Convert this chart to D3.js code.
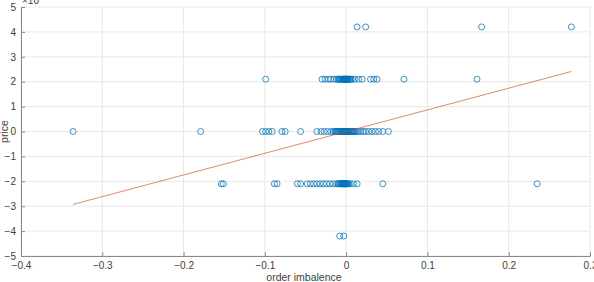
<!DOCTYPE html>
<html>
<head>
<meta charset="utf-8">
<script src="https://cdn.jsdelivr.net/npm/d3@7"></script>
<style>
  body { margin: 0; background: #fff; }
  text { font-family: "Liberation Sans", Arial, sans-serif; }
</style>
</head>
<body>
<div id="my_dataviz"></div>
<script>
// price values are in units of 10^-3
var row42 = [0.0135, 0.024, 0.1666, 0.277];
var row21 = [-0.099, -0.0296, -0.026, -0.022, -0.019, -0.015, -0.012, -0.010, -0.009, -0.008, -0.007,
    -0.006, -0.005, -0.004, -0.0035, -0.003, -0.0025, -0.002, -0.0015, -0.001, -0.0005, 0.0, 0.0005,
    0.001, 0.0015, 0.002, 0.003, 0.004, 0.005, 0.006, 0.008, 0.011, 0.0155, 0.0197, 0.030, 0.034,
    0.038, 0.071, 0.161];
var row0 = [-0.336, -0.179, -0.103, -0.099, -0.095, -0.091, -0.079, -0.075, -0.056, -0.036, -0.031, -0.027,
    -0.023, -0.019, -0.016, -0.014, -0.013, -0.012, -0.011, -0.010, -0.009, -0.008, -0.007, -0.006,
    -0.005, -0.0045, -0.004, -0.0035, -0.003, -0.0025, -0.002, -0.0015, -0.001, -0.0005, 0.0, 0.0005,
    0.001, 0.0015, 0.002, 0.0025, 0.003, 0.004, 0.005, 0.006, 0.007, 0.008, 0.009, 0.010, 0.011,
    0.013, 0.015, 0.018, 0.021, 0.024, 0.028, 0.032, 0.036, 0.040, 0.045, 0.052];
var rowM21 = [-0.1536, -0.151, -0.0883, -0.085, -0.060, -0.056, -0.048, -0.044, -0.040, -0.036, -0.032,
    -0.028, -0.024, -0.020, -0.016, -0.012, -0.010, -0.009, -0.008, -0.007, -0.006, -0.005, -0.0045,
    -0.004, -0.0035, -0.003, -0.0025, -0.002, -0.0015, -0.001, -0.0005, 0.0, 0.0005, 0.001, 0.002,
    0.003, 0.005, 0.009, 0.0135, 0.045, 0.235];
var rowM42 = [-0.008, -0.003];

var priceLevels = [4.2, 2.1, 0, -2.1, -4.2];
var rows = [row42, row21, row0, rowM21, rowM42];

// least squares line end points
var fitX = [-0.336, 0.277];
var fitY = [-2.93, 2.41];

var xTicks = [-0.4, -0.3, -0.2, -0.1, 0, 0.1, 0.2, 0.3];
var yTicks = [-5, -4, -3, -2, -1, 0, 1, 2, 3, 4, 5];

var W = 594, H = 282;
var margin = { top: 7, right: 4, bottom: 26, left: 21 };

var svg = d3.select("#my_dataviz")
    .append("svg")
    .attr("width", W)
    .attr("height", H);

var x = d3.scaleLinear().domain([-0.4, 0.3]).range([margin.left, W - margin.right]);
var y = d3.scaleLinear().domain([-5, 5]).range([H - margin.bottom, margin.top]);

// grid
svg.append("g").selectAll("line")
    .data(xTicks)
    .enter().append("line")
    .attr("x1", function (d) { return x(d); })
    .attr("x2", function (d) { return x(d); })
    .attr("y1", y(-5))
    .attr("y2", y(5))
    .attr("stroke", "#e8e8e8")
    .attr("stroke-width", 1);
svg.append("g").selectAll("line")
    .data(yTicks)
    .enter().append("line")
    .attr("x1", x(-0.4))
    .attr("x2", x(0.3))
    .attr("y1", function (d) { return y(d); })
    .attr("y2", function (d) { return y(d); })
    .attr("stroke", "#e8e8e8")
    .attr("stroke-width", 1);

// axes
var xAxis = svg.append("g")
    .attr("transform", "translate(0," + y(-5) + ")")
    .call(d3.axisBottom(x).tickValues(xTicks).tickFormat(d3.format("")).tickSizeInner(-4).tickSizeOuter(0).tickPadding(6));
var yAxis = svg.append("g")
    .attr("transform", "translate(" + x(-0.4) + ",0)")
    .call(d3.axisLeft(y).tickValues(yTicks).tickFormat(d3.format("")).tickSizeInner(-4).tickSizeOuter(0).tickPadding(5));

[xAxis, yAxis].forEach(function (a) {
    a.select(".domain").attr("stroke", "#8a8a8a");
    a.selectAll(".tick line").attr("stroke", "#8a8a8a");
    a.selectAll(".tick text").attr("fill", "#404040").style("font-size", "10px");
});

// exponent label
var ex = svg.append("text")
    .attr("x", x(-0.4) + 1)
    .attr("y", 4)
    .attr("fill", "#404040")
    .style("font-size", "10px");
ex.append("tspan").text("\u00d710");
ex.append("tspan").attr("dy", -4).style("font-size", "7px").text("-3");

// axis labels
svg.append("text")
    .attr("x", 304)
    .attr("y", 281)
    .attr("text-anchor", "middle")
    .attr("fill", "#404040")
    .style("font-size", "10.5px")
    .text("order imbalence");

svg.append("text")
    .attr("transform", "translate(8," + y(0) + ") rotate(-90)")
    .attr("text-anchor", "middle")
    .attr("fill", "#404040")
    .style("font-size", "10.5px")
    .text("price");

// points
var points = [];
rows.forEach(function (r, i) {
    r.forEach(function (v) { points.push({ oi: v, price: priceLevels[i] }); });
});

svg.append("g").selectAll("circle")
    .data(points)
    .enter().append("circle")
    .attr("cx", function (d) { return x(d.oi); })
    .attr("cy", function (d) { return y(d.price); })
    .attr("r", 3)
    .attr("fill", "none")
    .attr("stroke", "#0072BD")
    .attr("stroke-width", 0.9)
    .attr("stroke-opacity", 0.85);

// fit line
svg.append("path")
    .datum(d3.zip(fitX, fitY))
    .attr("fill", "none")
    .attr("stroke", "#D95319")
    .attr("stroke-width", 0.8)
    .attr("stroke-opacity", 0.85)
    .attr("d", d3.line().x(function (d) { return x(d[0]); }).y(function (d) { return y(d[1]); }));
</script>
</body>
</html>
